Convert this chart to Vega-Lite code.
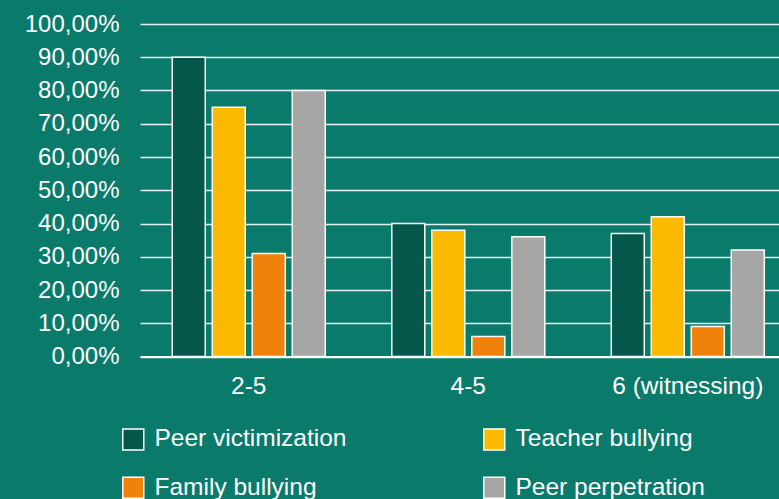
{
  "$schema": "https://vega.github.io/schema/vega-lite/v6.json",
  "width": 639,
  "height": 332.5,
  "autosize": {"type": "none"},
  "padding": {"left": 140, "top": 24, "right": 0, "bottom": 142.5},
  "background": "#0a7a6b",
  "config": {
    "view": {"stroke": null},
    "font": "Liberation Sans"
  },
  "data": {
    "values": [
      {"group": "2-5", "series": "Peer victimization", "value": 90},
      {"group": "2-5", "series": "Teacher bullying", "value": 75},
      {"group": "2-5", "series": "Family bullying", "value": 31},
      {"group": "2-5", "series": "Peer perpetration", "value": 80},
      {"group": "4-5", "series": "Peer victimization", "value": 40},
      {"group": "4-5", "series": "Teacher bullying", "value": 38},
      {"group": "4-5", "series": "Family bullying", "value": 6},
      {"group": "4-5", "series": "Peer perpetration", "value": 36},
      {"group": "6 (witnessing)", "series": "Peer victimization", "value": 37},
      {"group": "6 (witnessing)", "series": "Teacher bullying", "value": 42},
      {"group": "6 (witnessing)", "series": "Family bullying", "value": 9},
      {"group": "6 (witnessing)", "series": "Peer perpetration", "value": 32}
    ]
  },
  "mark": {"type": "bar", "stroke": "white", "strokeWidth": 1.5},
  "encoding": {
    "x": {
      "field": "group",
      "type": "nominal",
      "sort": null,
      "scale": {"paddingInner": 0.303, "paddingOuter": 0.107, "align": 0.687, "round": false},
      "axis": {
        "title": null,
        "labelAngle": 0,
        "ticks": false,
        "domain": true,
        "domainColor": "white",
        "domainWidth": 2,
        "labelPadding": 18,
        "labelFontSize": 24.5,
        "labelColor": "white",
        "labelFont": "Liberation Sans"
      }
    },
    "xOffset": {
      "field": "series",
      "type": "nominal",
      "sort": ["Peer victimization", "Teacher bullying", "Family bullying", "Peer perpetration"],
      "scale": {"paddingInner": 0.175, "paddingOuter": 0, "round": false}
    },
    "y": {
      "field": "value",
      "type": "quantitative",
      "scale": {"domain": [0, 100], "nice": false},
      "axis": {
        "title": null,
        "values": [0, 10, 20, 30, 40, 50, 60, 70, 80, 90, 100],
        "grid": true,
        "gridColor": "white",
        "gridWidth": 1.5,
        "gridOpacity": 0.9,
        "ticks": false,
        "domain": false,
        "labelPadding": 21,
        "labelFontSize": 24,
        "labelColor": "white",
        "labelFont": "Liberation Sans",
        "labelExpr": "replace(format(datum.value, '.2f'), '.', ',') + '%'"
      }
    },
    "color": {
      "field": "series",
      "type": "nominal",
      "scale": {
        "domain": ["Peer victimization", "Family bullying", "Teacher bullying", "Peer perpetration"],
        "range": ["#05574b", "#f0820b", "#fbb900", "#a6a6a6"]
      },
      "legend": {
        "title": null,
        "orient": "none",
        "legendX": -19,
        "legendY": 403,
        "columns": 2,
        "padding": 0,
        "symbolType": "square",
        "symbolSize": 441,
        "symbolStrokeColor": "white",
        "symbolStrokeWidth": 1.5,
        "symbolOpacity": 1,
        "labelFontSize": 24.5,
        "labelColor": "white",
        "labelFont": "Liberation Sans",
        "labelOffset": 9,
        "labelLimit": 400,
        "rowPadding": 20.5,
        "columnPadding": 133
      }
    }
  }
}
